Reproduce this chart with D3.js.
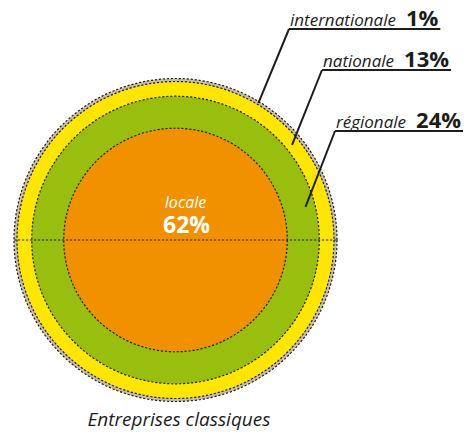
<!DOCTYPE html>
<html>
  <head>
    <meta charset="utf-8">
    <title>Entreprises classiques</title>
    <script src="https://d3js.org/d3.v7.min.js"></script>
    <style>
      body { margin: 0; background: #fff; }
      text { font-family: "Open Sans", "Noto Sans", sans-serif; fill: #1d1d1b; }
    </style>
  </head>
  <body>
    <svg id="chart" width="474" height="433"></svg>
    <script>
      // data, from the centre outwards
      const categories = ["locale", "régionale", "nationale", "internationale"];
      const shares = [62, 24, 13, 1];
      const title = "Entreprises classiques";

      const colours = ["#f29100", "#98bf0e", "#ffe600", "#c8bdaa"];
      const cx = 175.5, cy = 240, R = 161.5;

      const svg = d3.select("#chart");
      // cumulative share -> radius
      const r = d3.scalePow().exponent(0.77).domain([0, 100]).range([0, R]);
      const cum = Array.from(d3.cumsum(shares));
      const radii = cum.map(function(c, i) {
        // keep the thin outer ring visible
        return i === cum.length - 2 ? Math.min(r(c), R - 3) : r(c);
      });
      const rings = categories.map(function(c, i) {
        return { name: c, share: shares[i], outer: radii[i], inner: i ? radii[i - 1] : 0, colour: colours[i] };
      });

      const g = svg.append("g").attr("transform", "translate(" + cx + "," + cy + ")");
      g.selectAll("circle")
          .data(rings.slice().reverse())
        .enter().append("circle")
          .attr("r", function(d) { return d.outer; })
          .attr("fill", function(d) { return d.colour; })
          .attr("stroke", "#1d1d1b")
          .attr("stroke-width", 1.2)
          .attr("stroke-dasharray", "2.2,1.8");
      // horizontal dashed diameter
      g.append("line")
        .attr("x1", -R).attr("x2", R)
        .attr("stroke", "#1d1d1b")
        .attr("stroke-width", 1.2)
        .attr("stroke-dasharray", "2.2,1.8");

      // centre label
      g.append("text")
        .attr("x", 10).attr("y", -32)
        .attr("text-anchor", "middle")
        .style("font-style", "italic")
        .style("font-size", "16px")
        .style("fill", "#fff")
        .text(rings[0].name);
      g.append("text")
        .attr("x", 11).attr("y", -7)
        .attr("text-anchor", "middle")
        .style("font-weight", "bold")
        .style("font-size", "23px")
        .style("fill", "#fff")
        .text(rings[0].share + "%");

      // callouts for the outer rings
      const callouts = [
        { ring: 3, x: 290, y: 26, angle: -58.8, t: 0.5 },
        { ring: 2, x: 323, y: 67, angle: -39.2, t: 0.45 },
        { ring: 1, x: 336, y: 128, angle: -14.3, t: 0.7 }
      ];
      callouts.forEach(function(c) {
        const d = rings[c.ring];
        const lab = svg.append("text")
          .attr("x", c.x).attr("y", c.y)
          .style("font-style", "italic")
          .style("font-size", "17px")
          .text(d.name);
        const w = lab.node().getComputedTextLength();
        const pct = svg.append("text")
          .attr("x", c.x + w + 10).attr("y", c.y)
          .style("font-weight", "bold")
          .style("font-size", "22px")
          .text(d.share + "%");
        const pw = pct.node().getComputedTextLength();
        const uy = c.y + 3;
        svg.append("line")
          .attr("x1", c.x - 1).attr("x2", c.x + w + 10 + pw + 2)
          .attr("y1", uy).attr("y2", uy)
          .attr("stroke", "#1d1d1b").attr("stroke-width", 2);
        const a = c.angle * Math.PI / 180;
        const rr = d.inner + (d.outer - d.inner) * c.t;
        svg.append("line")
          .attr("x1", c.x - 1).attr("y1", uy)
          .attr("x2", cx + rr * Math.cos(a)).attr("y2", cy + rr * Math.sin(a))
          .attr("stroke", "#1d1d1b").attr("stroke-width", 2);
      });

      svg.append("text")
        .attr("x", 179).attr("y", 426)
        .attr("text-anchor", "middle")
        .style("font-style", "italic")
        .style("font-size", "19px")
        .text(title);
    </script>
  </body>
</html>
